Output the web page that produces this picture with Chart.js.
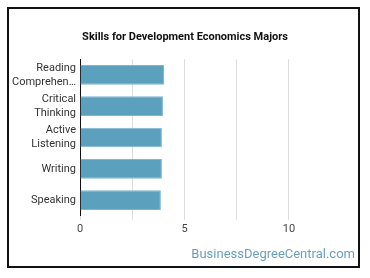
<!DOCTYPE html>
<html lang="en">
<head>
  <meta charset="UTF-8">
  <title>Skills for Development Economics Majors</title>
  <script src="https://cdn.jsdelivr.net/npm/chart.js"></script>
  <style>
    body { margin: 0; background: #fff; }
    #wrap { position: absolute; left: 0; top: 0; width: 370px; height: 278px; }
    #frame { position: absolute; left: 7px; top: 7px; width: 353px; height: 261px;
             border: 2px solid #111; box-sizing: border-box; pointer-events: none; }
    #credit { position: absolute; right: 15px; top: 246px; font: 13px Roboto, sans-serif;
              color: #6b9fc0; }
  </style>
</head>
<body>
  <div id="wrap">
    <canvas id="chart" width="370" height="278"></canvas>
    <div id="frame"></div>
    <div id="credit">BusinessDegreeCentral.com</div>
  </div>

  <script>
    const skills = [['Reading', 'Comprehen\u2026'], ['Critical', 'Thinking'], ['Active', 'Listening'], 'Writing', 'Speaking'];
    const scores = [4.02, 3.97, 3.92, 3.92, 3.87];
    const tickLabels = ['0', '5', '10'];

    new Chart(document.getElementById('chart'), {
      type: 'bar',
      data: {
        labels: skills,
        datasets: [{
          data: scores,
          backgroundColor: '#5ba1be',
          borderColor: '#7fb7cf',
          borderWidth: 1,
          categoryPercentage: 0.63,
          barPercentage: 1
        }]
      },
      options: {
        indexAxis: 'y',
        responsive: false,
        animation: false,
        layout: { padding: { left: 8, right: 8, top: 20, bottom: 39 } },
        plugins: {
          legend: { display: false },
          tooltip: { enabled: false },
          title: {
            display: true,
            text: 'Skills for Development Economics Majors',
            color: '#111',
            font: { family: 'Roboto', size: 11, weight: 'bold' },
            padding: { top: 11, bottom: 15 }
          }
        },
        scales: {
          x: {
            min: 0,
            max: 13.5,
            border: { display: false },
            grid: { color: '#dddddd', drawTicks: true, tickLength: 4 },
            afterBuildTicks: s => { s.ticks = s.ticks.filter(t => t.value <= 10); },
            ticks: {
              stepSize: 2.5,
              includeBounds: false,
              color: '#444',
              font: { family: 'Roboto', size: 11 },
              callback: v => (v % 5 === 0 ? tickLabels[v / 5] : '')
            }
          },
          y: {
            border: { display: true, color: '#111', width: 1 },
            grid: { display: false, drawTicks: false },
            ticks: {
              color: '#333',
              padding: 4,
              font: { family: 'Roboto', size: 11, lineHeight: 1.27 }
            }
          }
        }
      }
    });
  </script>
</body>
</html>
